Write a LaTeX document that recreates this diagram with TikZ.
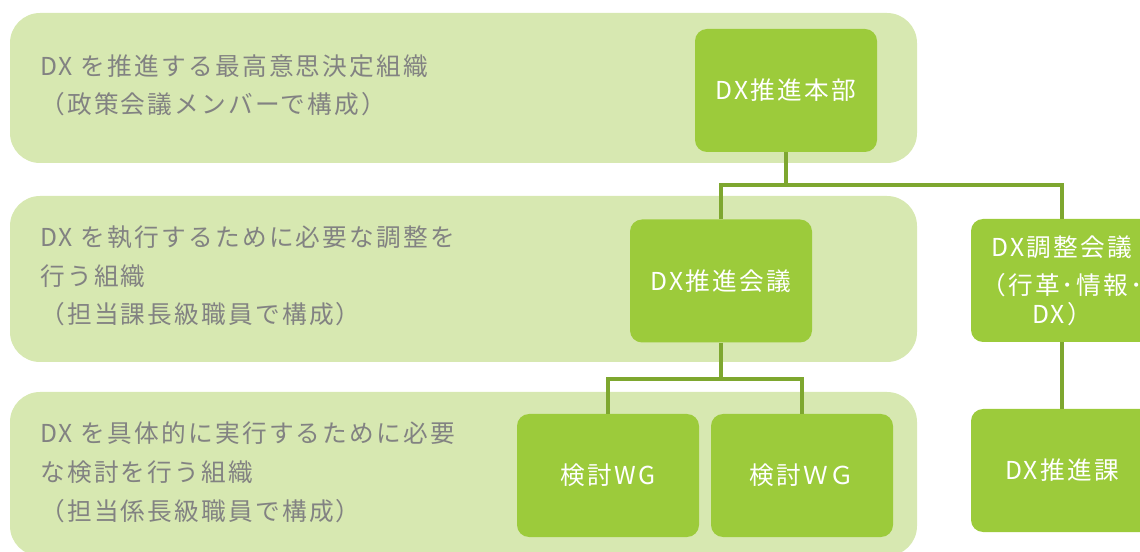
\documentclass[tikz,border=0pt]{standalone}
\usepackage{fontspec}
\setmainfont{Noto Sans CJK JP}[LetterSpace=9]
\definecolor{bandc}{HTML}{D7E8B1}
\definecolor{boxc}{HTML}{9CCB3B}
\definecolor{linec}{HTML}{7EA72F}
\definecolor{descc}{HTML}{828282}
\begin{document}
\begin{tikzpicture}[x=0.75pt,y=-0.75pt,
  band/.style={fill=bandc, draw=none, rounded corners=22.5pt, inner sep=0pt},
  box/.style={fill=boxc, draw=none, rounded corners=9pt, minimum width=136.5pt,
    minimum height=92.25pt, inner sep=0pt, text=white, align=center,
    font=\fontsize{18.5pt}{21.75pt}\selectfont},
  desc/.style={anchor=base west, inner sep=0pt, text=descc,
    font=\fontsize{18.5pt}{22pt}\selectfont},
  conn/.style={draw=linec, line width=3pt, line join=miter}]
\useasboundingbox (0,0) rectangle (1140,552);
\clip (0,0) rectangle (1140,552);
% bands
\node[band, minimum width=680.25pt, minimum height=112.5pt] (band1) at (463.5,88) {};
\node[band, minimum width=680.25pt, minimum height=124.5pt] (band2) at (463.5,279) {};
\node[band, minimum width=680.25pt, minimum height=123pt] (band3) at (463.5,474) {};
% descriptions
\node[desc] (d1a) at (40,76) {DX を推進する最高意思決定組織};
\node[desc] (d1b) at (40,114) {（政策会議メンバーで構成）};
\node[desc] (d2a) at (40,247) {DX を執行するために必要な調整を};
\node[desc] (d2b) at (40,285.5) {行う組織};
\node[desc] (d2c) at (40,324) {（担当課長級職員で構成）};
\node[desc] (d3a) at (40,443) {DX を具体的に実行するために必要};
\node[desc] (d3b) at (40,481.5) {な検討を行う組織};
\node[desc] (d3c) at (40,520) {（担当係長級職員で構成）};
% boxes
\node[box] (honbu) at (786,90.5) {DX推進本部};
\node[box] (kaigi) at (721,281) {DX推進会議};
\node[box] (chosei) at (1062,280.5) {DX調整会議\\[7pt]（行革･情報･\\DX）};
\node[box] (ka) at (1062,470.5) {DX推進課};
\node[box] (wg1) at (608,475.5) {検討WG};
\node[box] (wg2) at (802,475.5) {検討ＷＧ};
% connectors
\draw[conn] (honbu.south) -- ++(0,33) -| (kaigi.north);
\draw[conn] (honbu.south) -- ++(0,33) -| (chosei.north);
\draw[conn] (kaigi.south) -- ++(0,36) -| (wg1.north);
\draw[conn] (kaigi.south) -- ++(0,36) -| (wg2.north);
\draw[conn] (chosei.south) -- (ka.north);
\end{tikzpicture}
\end{document}
